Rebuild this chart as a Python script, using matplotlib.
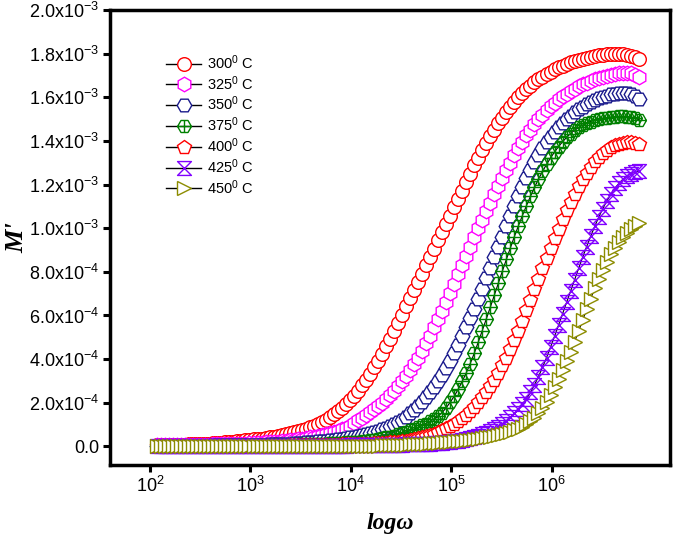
import numpy as np
import matplotlib
matplotlib.use('Agg')
import matplotlib.pyplot as plt
from matplotlib.path import Path
from matplotlib.lines import Line2D
from matplotlib.ticker import FuncFormatter, MultipleLocator, NullLocator, FixedLocator

plt.rcParams['font.family'] = ['Liberation Sans', 'DejaVu Sans']
plt.rcParams['mathtext.fontset'] = 'custom'
plt.rcParams['mathtext.rm'] = 'Liberation Sans'
plt.rcParams['mathtext.it'] = 'Liberation Sans:italic'
plt.rcParams['mathtext.bf'] = 'Liberation Sans:bold'

# log sweep of the analyser: 121 points, log(w) = 2.07 ... 6.87
omega = 10 ** (2.07 + 0.04 * np.arange(121))

labels = ['300', '325', '350', '375', '400', '425', '450']
decades = [1e2, 1e3, 1e4, 1e5, 1e6]

# M' in units of 1e-4
m_300 = [0.05, 0.05, 0.06, 0.06, 0.07, 0.07, 0.08, 0.08, 0.09, 0.09, 0.10,
         0.10, 0.11, 0.13, 0.14, 0.16, 0.17, 0.18, 0.20, 0.21, 0.23,
         0.25, 0.28, 0.30, 0.32, 0.34, 0.36, 0.39, 0.41, 0.45, 0.49,
         0.53, 0.57, 0.61, 0.66, 0.71, 0.76, 0.81, 0.87, 0.94, 1.02,
         1.11, 1.22, 1.34, 1.47, 1.62, 1.78, 1.95, 2.13, 2.33, 2.55,
         2.80, 3.05, 3.32, 3.62, 3.93, 4.25, 4.58, 4.92, 5.28, 5.65,
         6.03, 6.42, 6.80, 7.18, 7.55, 7.92, 8.30, 8.68, 9.06, 9.44,
         9.82, 10.20, 10.58, 10.96, 11.34, 11.72, 12.10, 12.50, 12.88, 13.24,
         13.58, 13.91, 14.22, 14.52, 14.80, 15.07, 15.32, 15.56, 15.78, 15.99,
         16.18, 16.36, 16.53, 16.68, 16.82, 16.95, 17.07, 17.18, 17.28, 17.37,
         17.45, 17.53, 17.60, 17.66, 17.72, 17.77, 17.82, 17.86, 17.90, 17.93,
         17.96, 17.98, 17.99, 18.00, 17.99, 17.97, 17.94, 17.89, 17.83, 17.76]
m_325 = [0.05, 0.05, 0.05, 0.05, 0.06, 0.06, 0.06, 0.06, 0.07, 0.07, 0.07,
         0.08, 0.08, 0.08, 0.09, 0.09, 0.09, 0.10, 0.10, 0.10, 0.11,
         0.12, 0.13, 0.14, 0.15, 0.16, 0.17, 0.18, 0.19, 0.20, 0.22,
         0.24, 0.26, 0.28, 0.30, 0.32, 0.35, 0.38, 0.41, 0.44, 0.48,
         0.52, 0.56, 0.60, 0.65, 0.71, 0.78, 0.86, 0.95, 1.07, 1.20,
         1.32, 1.44, 1.57, 1.70, 1.85, 2.00, 2.17, 2.35, 2.55, 2.76,
         2.98, 3.22, 3.48, 3.76, 4.06, 4.38, 4.72, 5.08, 5.45, 5.83,
         6.22, 6.62, 7.03, 7.45, 7.88, 8.31, 8.74, 9.16, 9.58, 9.99,
         10.39, 10.78, 11.16, 11.57, 11.95, 12.30, 12.66, 13.01, 13.34, 13.66,
         13.96, 14.25, 14.52, 14.77, 15.00, 15.21, 15.41, 15.59, 15.75, 15.90,
         16.04, 16.17, 16.29, 16.40, 16.50, 16.59, 16.67, 16.75, 16.82, 16.88,
         16.93, 16.99, 17.04, 17.08, 17.11, 17.13, 17.13, 17.10, 17.03, 16.92]
m_350 = [0.03, 0.03, 0.03, 0.03, 0.03, 0.03, 0.03, 0.04, 0.04, 0.04, 0.04,
         0.04, 0.04, 0.04, 0.05, 0.05, 0.05, 0.05, 0.05, 0.05, 0.06,
         0.06, 0.06, 0.06, 0.07, 0.07, 0.08, 0.08, 0.09, 0.09, 0.10,
         0.11, 0.12, 0.13, 0.14, 0.15, 0.16, 0.18, 0.19, 0.21, 0.23,
         0.25, 0.27, 0.29, 0.31, 0.33, 0.36, 0.39, 0.42, 0.45, 0.48,
         0.51, 0.55, 0.60, 0.66, 0.72, 0.78, 0.85, 0.93, 1.02, 1.12,
         1.23, 1.36, 1.51, 1.67, 1.85, 2.04, 2.25, 2.48, 2.73, 3.00,
         3.29, 3.60, 3.93, 4.28, 4.65, 5.04, 5.45, 5.88, 6.32, 6.77,
         7.23, 7.70, 8.18, 8.66, 9.14, 9.62, 10.10, 10.57, 11.03, 11.47,
         11.89, 12.29, 12.67, 13.03, 13.36, 13.66, 13.94, 14.19, 14.42, 14.63,
         14.82, 15.00, 15.16, 15.31, 15.45, 15.57, 15.68, 15.78, 15.87, 15.95,
         16.02, 16.08, 16.13, 16.17, 16.20, 16.21, 16.20, 16.15, 16.06, 15.92]
m_375 = [0.03, 0.03, 0.03, 0.03, 0.03, 0.03, 0.03, 0.03, 0.03, 0.03, 0.04,
         0.04, 0.04, 0.04, 0.04, 0.04, 0.04, 0.04, 0.05, 0.05, 0.05,
         0.05, 0.05, 0.05, 0.05, 0.06, 0.06, 0.06, 0.06, 0.06, 0.07,
         0.07, 0.07, 0.07, 0.08, 0.08, 0.09, 0.09, 0.10, 0.10, 0.11,
         0.12, 0.13, 0.14, 0.15, 0.16, 0.17, 0.18, 0.19, 0.20, 0.22,
         0.24, 0.26, 0.28, 0.31, 0.34, 0.37, 0.41, 0.45, 0.50, 0.55,
         0.61, 0.67, 0.73, 0.80, 0.88, 0.96, 1.05, 1.15, 1.26, 1.39,
         1.55, 1.77, 2.02, 2.30, 2.62, 2.98, 3.37, 3.80, 4.27, 4.78,
         5.31, 5.84, 6.38, 6.93, 7.48, 8.03, 8.57, 9.10, 9.62, 10.11,
         10.58, 11.03, 11.46, 11.87, 12.25, 12.60, 12.92, 13.22, 13.49, 13.74,
         13.96, 14.16, 14.34, 14.49, 14.62, 14.73, 14.82, 14.89, 14.95, 15.00,
         15.04, 15.07, 15.09, 15.11, 15.12, 15.12, 15.11, 15.08, 15.04, 14.98]
m_400 = [0.02, 0.02, 0.02, 0.02, 0.02, 0.02, 0.02, 0.02, 0.02, 0.02, 0.02,
         0.02, 0.02, 0.02, 0.02, 0.02, 0.03, 0.03, 0.03, 0.03, 0.03,
         0.03, 0.03, 0.03, 0.03, 0.03, 0.03, 0.04, 0.04, 0.04, 0.04,
         0.04, 0.04, 0.05, 0.05, 0.05, 0.05, 0.06, 0.06, 0.06, 0.07,
         0.07, 0.07, 0.08, 0.08, 0.08, 0.09, 0.09, 0.10, 0.10, 0.11,
         0.11, 0.12, 0.13, 0.14, 0.15, 0.16, 0.17, 0.19, 0.20, 0.22,
         0.24, 0.27, 0.30, 0.33, 0.37, 0.42, 0.47, 0.53, 0.59, 0.66,
         0.74, 0.83, 0.93, 1.04, 1.16, 1.30, 1.45, 1.62, 1.81, 2.02,
         2.25, 2.50, 2.77, 3.06, 3.37, 3.71, 4.07, 4.46, 4.87, 5.31,
         5.77, 6.24, 6.72, 7.20, 7.68, 8.16, 8.63, 9.09, 9.54, 9.98,
         10.41, 10.82, 11.21, 11.58, 11.93, 12.25, 12.55, 12.82, 13.06, 13.27,
         13.45, 13.60, 13.72, 13.81, 13.87, 13.91, 13.93, 13.93, 13.90, 13.85]
m_425 = [0.01, 0.01, 0.01, 0.01, 0.01, 0.01, 0.01, 0.01, 0.01, 0.01, 0.01,
         0.01, 0.01, 0.01, 0.01, 0.01, 0.01, 0.01, 0.01, 0.01, 0.02,
         0.02, 0.02, 0.02, 0.02, 0.02, 0.02, 0.02, 0.02, 0.02, 0.02,
         0.02, 0.02, 0.02, 0.02, 0.03, 0.03, 0.03, 0.03, 0.03, 0.03,
         0.03, 0.03, 0.04, 0.04, 0.04, 0.04, 0.04, 0.05, 0.05, 0.05,
         0.05, 0.05, 0.06, 0.06, 0.06, 0.06, 0.07, 0.07, 0.07, 0.08,
         0.08, 0.09, 0.09, 0.10, 0.11, 0.11, 0.12, 0.13, 0.14, 0.15,
         0.17, 0.19, 0.21, 0.24, 0.27, 0.30, 0.34, 0.38, 0.43, 0.49,
         0.55, 0.62, 0.70, 0.79, 0.90, 1.03, 1.17, 1.33, 1.51, 1.71,
         1.93, 2.18, 2.48, 2.82, 3.20, 3.62, 4.07, 4.55, 5.05, 5.56,
         6.08, 6.60, 7.12, 7.64, 8.16, 8.67, 9.16, 9.63, 10.08, 10.50,
         10.89, 11.24, 11.55, 11.82, 12.05, 12.24, 12.39, 12.50, 12.57, 12.60]
m_450 = [0.00, 0.00, 0.00, 0.00, 0.00, 0.00, 0.00, 0.00, 0.00, 0.00, 0.00,
         0.00, 0.00, 0.00, 0.00, 0.00, 0.00, 0.00, 0.00, 0.00, 0.00,
         0.01, 0.01, 0.01, 0.01, 0.01, 0.01, 0.01, 0.01, 0.01, 0.01,
         0.01, 0.01, 0.01, 0.01, 0.01, 0.01, 0.01, 0.01, 0.01, 0.01,
         0.02, 0.02, 0.02, 0.02, 0.02, 0.02, 0.02, 0.02, 0.02, 0.02,
         0.03, 0.03, 0.03, 0.04, 0.04, 0.05, 0.05, 0.06, 0.06, 0.07,
         0.08, 0.08, 0.09, 0.10, 0.11, 0.12, 0.13, 0.14, 0.15, 0.17,
         0.18, 0.20, 0.21, 0.23, 0.25, 0.27, 0.29, 0.31, 0.33, 0.35,
         0.38, 0.41, 0.44, 0.48, 0.52, 0.56, 0.61, 0.67, 0.74, 0.82,
         0.91, 1.02, 1.15, 1.32, 1.52, 1.76, 2.04, 2.36, 2.71, 3.08,
         3.48, 3.90, 4.34, 4.80, 5.28, 5.78, 6.28, 6.77, 7.24, 7.68,
         8.09, 8.46, 8.80, 9.11, 9.38, 9.61, 9.80, 9.96, 10.10, 10.22]

series = [m_300, m_325, m_350, m_375, m_400, m_425, m_450]
colors = ['#ff0000', '#ff00ff', '#1a1a8c', '#008000', '#ff0000', '#8000ff', '#8c8c00']

# special markers: crossed hexagon and hourglass-cross
hx = np.cos(np.radians(np.arange(0, 360, 60)))
hy = np.sin(np.radians(np.arange(0, 360, 60)))
crossed_hex = Path(list(zip(hx, hy)) + [(1, 0), (-1, 0), (1, 0), (0, -0.87), (0, 0.87)],
                   [Path.MOVETO] + [Path.LINETO] * 5 + [Path.CLOSEPOLY,
                    Path.MOVETO, Path.LINETO, Path.MOVETO, Path.LINETO])
hourglass = Path([(-1, 1), (1, 1), (-1, -1), (1, -1), (-1, 1)],
                 [Path.MOVETO, Path.LINETO, Path.LINETO, Path.LINETO, Path.CLOSEPOLY])

markers = ['o', 'h', 'H', crossed_hex, 'p', hourglass, '>']
faces = ['white', 'white', 'white', 'none', 'white', 'none', 'white']
sizes = [9.8, 10.5, 10.5, 10, 10.5, 10, 10.5]

fig = plt.figure(figsize=(6.85, 5.46), dpi=100)
ax = fig.add_axes([0.1606, 0.1484, 0.8174, 0.8333])

handles = []
for lab, m, c, mk, fc, ms in zip(labels, series, colors, markers, faces, sizes):
    ax.plot(omega, np.array(m) * 1e-4, color='black', lw=0.8, marker=mk,
            mfc=fc, mec=c, ms=ms, mew=1.0)
    handles.append(Line2D([], [], color='black', lw=1.0, marker=mk, mfc=fc,
                          mec=c, ms=ms, mew=1.0, label=lab + '$^0$ C'))

ax.set_xscale('log')
ax.set_xlim(10 ** 1.6, 10 ** 7.18)
ax.set_ylim(-0.85e-4, 2.0e-3)
ax.xaxis.set_major_locator(FixedLocator(decades))
ax.xaxis.set_minor_locator(NullLocator())
ax.yaxis.set_major_locator(MultipleLocator(2e-4))


def yfmt(v, pos):
    if abs(v) < 1e-12:
        return '0.0'
    e = int(np.floor(np.log10(abs(v)) + 1e-9))
    return '%.1fx10$^{%d}$' % (v / 10 ** e, e)


ax.yaxis.set_major_formatter(FuncFormatter(yfmt))
ax.xaxis.set_major_formatter(FuncFormatter(lambda v, p: '10$^{%d}$' % round(np.log10(v))))

for s in ax.spines.values():
    s.set_linewidth(2.5)
ax.tick_params(which='major', direction='out', length=5, width=2.2,
               labelsize=13, pad=3)

ax.set_xlabel('logω', fontfamily='Liberation Serif', fontstyle='italic',
              fontweight='bold', fontsize=17, labelpad=12)
ax.set_ylabel("M'", fontfamily='Liberation Serif', fontstyle='italic',
              fontweight='bold', fontsize=19, labelpad=0)

ax.legend(handles=handles, loc='upper left', bbox_to_anchor=(0.1, 0.905),
          frameon=False, fontsize=10.5, handlelength=2.4, handletextpad=0.4,
          labelspacing=0.15, borderpad=0, borderaxespad=0)

fig.savefig('out.png', dpi=100)
